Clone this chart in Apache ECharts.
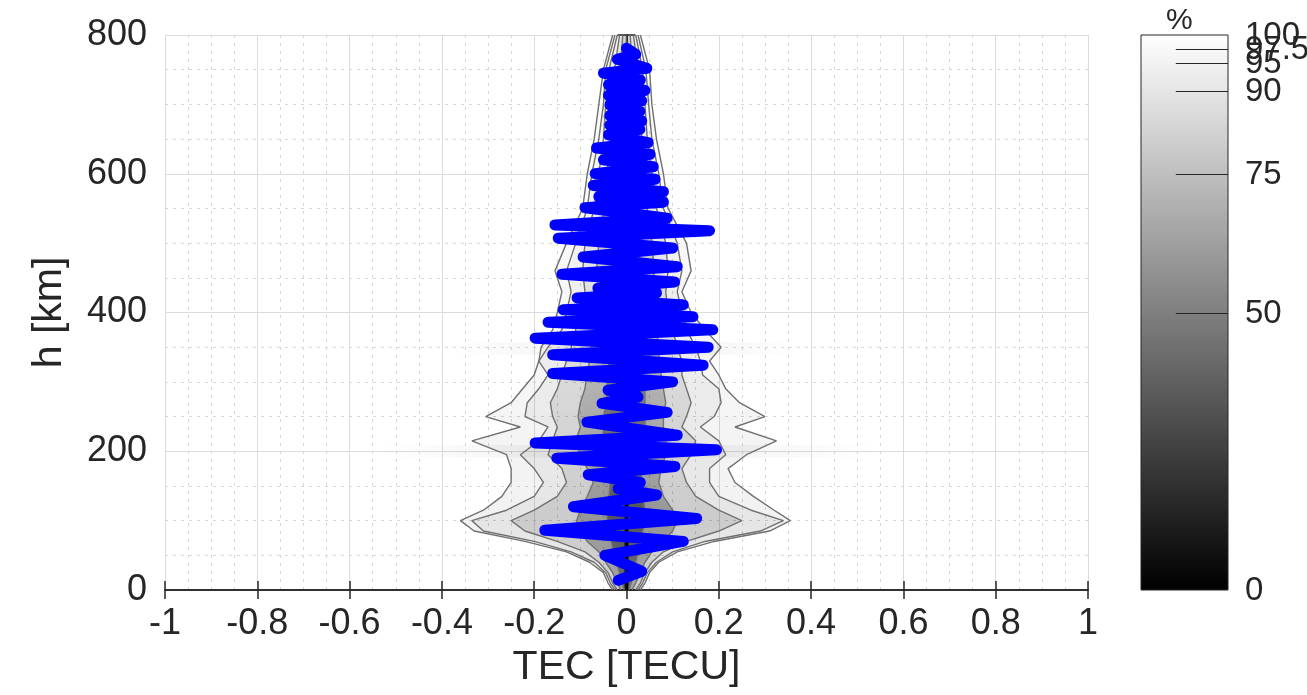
<!DOCTYPE html>
<html>
<head>
<meta charset="utf-8">
<script src="https://cdn.jsdelivr.net/npm/echarts@6/dist/echarts.min.js"></script>
<style>
  html, body { margin: 0; padding: 0; background: #fff; }
  #chart { width: 1307px; height: 695px; }
</style>
</head>
<body>
<div id="chart"></div>
<script>
// heights (km) where the percentile contours were read
var hGrid = [0, 10, 25, 40, 55, 70, 85, 100, 115, 135, 155, 175, 195, 215, 235, 250, 270, 290, 310, 330, 350, 375, 400, 430, 460, 500, 550, 600, 650, 700, 750, 800];

// contour edges, outer (97.5 %) to inner (50 %), right and left side
var c975Right = [0.03, 0.04, 0.05, 0.07, 0.11, 0.19, 0.31, 0.355, 0.32, 0.275, 0.235, 0.22, 0.26, 0.325, 0.235, 0.30, 0.245, 0.215, 0.20, 0.18, 0.205, 0.17, 0.14, 0.12, 0.14, 0.13, 0.09, 0.08, 0.065, 0.055, 0.05, 0.03];
var c975Left = [-0.03, -0.04, -0.05, -0.08, -0.13, -0.22, -0.33, -0.36, -0.31, -0.27, -0.25, -0.25, -0.26, -0.335, -0.23, -0.305, -0.25, -0.225, -0.2, -0.19, -0.185, -0.16, -0.15, -0.14, -0.155, -0.13, -0.095, -0.085, -0.07, -0.06, -0.05, -0.03];
var c95Right = [0.025, 0.035, 0.045, 0.065, 0.1, 0.17, 0.29, 0.34, 0.27, 0.2, 0.18, 0.18, 0.215, 0.2, 0.16, 0.19, 0.205, 0.2, 0.165, 0.16, 0.15, 0.13, 0.12, 0.11, 0.12, 0.11, 0.08, 0.07, 0.055, 0.048, 0.042, 0.025];
var c95Left = [-0.025, -0.035, -0.045, -0.07, -0.12, -0.2, -0.31, -0.335, -0.26, -0.2, -0.18, -0.2, -0.23, -0.19, -0.17, -0.22, -0.215, -0.19, -0.17, -0.19, -0.17, -0.14, -0.13, -0.12, -0.13, -0.11, -0.085, -0.075, -0.06, -0.05, -0.045, -0.025];
var c90Right = [0.02, 0.03, 0.04, 0.055, 0.08, 0.13, 0.2, 0.25, 0.2, 0.15, 0.13, 0.12, 0.14, 0.15, 0.12, 0.13, 0.14, 0.13, 0.12, 0.12, 0.11, 0.1, 0.09, 0.085, 0.09, 0.085, 0.065, 0.055, 0.045, 0.04, 0.035, 0.02];
var c90Left = [-0.02, -0.03, -0.04, -0.06, -0.09, -0.15, -0.22, -0.25, -0.2, -0.15, -0.13, -0.14, -0.17, -0.16, -0.15, -0.16, -0.165, -0.15, -0.14, -0.13, -0.12, -0.11, -0.1, -0.09, -0.095, -0.09, -0.07, -0.06, -0.05, -0.045, -0.038, -0.02];
var c75Right = [0.012, 0.02, 0.03, 0.04, 0.055, 0.08, 0.1, 0.11, 0.1, 0.08, 0.07, 0.075, 0.085, 0.085, 0.08, 0.08, 0.085, 0.08, 0.075, 0.07, 0.07, 0.065, 0.06, 0.055, 0.06, 0.055, 0.045, 0.04, 0.033, 0.03, 0.025, 0.015];
var c75Left = [-0.012, -0.02, -0.03, -0.045, -0.06, -0.085, -0.1, -0.108, -0.1, -0.085, -0.072, -0.085, -0.1, -0.11, -0.1, -0.105, -0.1, -0.09, -0.086, -0.08, -0.075, -0.07, -0.065, -0.06, -0.065, -0.06, -0.048, -0.042, -0.035, -0.03, -0.026, -0.015];
var c50Right = [0.005, 0.01, 0.015, 0.02, 0.025, 0.03, 0.035, 0.04, 0.04, 0.035, 0.03, 0.035, 0.04, 0.04, 0.04, 0.04, 0.04, 0.04, 0.035, 0.035, 0.035, 0.03, 0.03, 0.028, 0.03, 0.028, 0.022, 0.02, 0.017, 0.015, 0.013, 0.008];
var c50Left = [-0.005, -0.01, -0.015, -0.022, -0.028, -0.033, -0.038, -0.042, -0.042, -0.038, -0.035, -0.04, -0.045, -0.05, -0.05, -0.048, -0.045, -0.042, -0.04, -0.038, -0.036, -0.033, -0.03, -0.03, -0.032, -0.03, -0.024, -0.021, -0.018, -0.016, -0.014, -0.008];

// the single profile (blue), TEC and height of each turning point
var profileTec = [-0.018, 0.033, -0.047, 0.123, -0.177, 0.152, -0.115, 0.065, -0.018, 0.03, -0.083, 0.105, -0.151, 0.195, -0.198, 0.11, -0.086, 0.088, -0.053, 0.025, -0.04, 0.10, -0.16, 0.166, -0.16, 0.177, -0.198, 0.187, -0.17, 0.144, -0.137, 0.123, -0.107, 0.065, -0.062, 0.104, -0.14, 0.11, -0.094, 0.10, -0.148, 0.18, -0.155, 0.088, -0.09, 0.08, -0.06, 0.08, -0.072, 0.062, -0.068, 0.058, -0.05, 0.051, -0.065, 0.047, -0.039, 0.029, -0.036, 0.033, -0.036, 0.029, -0.036, 0.033, -0.039, 0.04, -0.039, 0.03, -0.05, 0.044, -0.02, 0.02, 0.0];
var profileH = [14, 27, 50, 70, 86, 103, 120, 137, 146, 155, 166, 178, 190, 202, 212, 223, 242, 256, 269, 278, 288, 300, 312, 324, 339, 350, 363, 375, 386, 394, 404, 411, 421, 428, 435, 444, 455, 466, 480, 493, 507, 518, 526, 536, 551, 559, 567, 574, 583, 592, 600, 610, 620, 628, 637, 645, 656, 664, 670, 676, 684, 690, 699, 705, 713, 720, 728, 735, 745, 752, 765, 772, 781];

// faint horizontal streaks in the density (height, half width in TECU)
var streakH = [200, 348, 425];
var streakHalf = [0.55, 0.38, 0.12];

// colour bar
var barTicks = [50, 75, 90, 95, 97.5];
var barLabels = [0, 50, 75, 90, 95, 97.5, 100];

var FONT = 'Liberation Sans, Arial, sans-serif';
var INK = '#262626';

var levels = [
  {right: c975Right, left: c975Left, a: [0.012, 0.03, 0.05, 0.045]},
  {right: c95Right, left: c95Left, a: [0.012, 0.03, 0.05, 0.045]},
  {right: c90Right, left: c90Left, a: [0.025, 0.06, 0.11, 0.09]},
  {right: c75Right, left: c75Left, a: [0.05, 0.12, 0.24, 0.2]},
  {right: c50Right, left: c50Left, a: [0.08, 0.2, 0.38, 0.3]}
];

function pairs(xs) {
  return hGrid.map(function (h, k) { return [xs[k], h]; });
}

var chart = echarts.init(document.getElementById('chart'), null, {renderer: 'canvas'});

var series = [];

// streaks
series.push({
  type: 'custom', xAxisIndex: 0, yAxisIndex: 0, silent: true, z: 1,
  data: streakH.map(function (h, i) { return [0, h, i]; }),
  renderItem: function (params, api) {
    var i = params.dataIndex;
    var p0 = api.coord([-streakHalf[i], streakH[i] + 9]);
    var p1 = api.coord([streakHalf[i], streakH[i] - 9]);
    return {
      type: 'rect',
      shape: {x: p0[0], y: p0[1], width: p1[0] - p0[0], height: p1[1] - p0[1]},
      style: {
        fill: new echarts.graphic.LinearGradient(0, 0, 1, 0, [
          {offset: 0, color: 'rgba(0,0,0,0)'},
          {offset: 0.3, color: 'rgba(0,0,0,0.04)'},
          {offset: 0.7, color: 'rgba(0,0,0,0.04)'},
          {offset: 1, color: 'rgba(0,0,0,0)'}
        ])
      }
    };
  }
});

// density fill between contours
series.push({
  type: 'custom', xAxisIndex: 0, yAxisIndex: 0, silent: true, z: 1,
  data: levels.map(function (l, i) { return [0, 400, i]; }),
  renderItem: function (params, api) {
    var lv = levels[params.dataIndex];
    var pts = pairs(lv.right).concat(pairs(lv.left).reverse()).map(function (p) { return api.coord(p); });
    return {
      type: 'polygon',
      shape: {points: pts},
      style: {
        fill: new echarts.graphic.LinearGradient(0, 0, 0, 1, [
          {offset: 0, color: 'rgba(0,0,0,' + lv.a[0] + ')'},
          {offset: 0.5, color: 'rgba(0,0,0,' + lv.a[1] + ')'},
          {offset: 0.87, color: 'rgba(0,0,0,' + lv.a[2] + ')'},
          {offset: 1, color: 'rgba(0,0,0,' + lv.a[3] + ')'}
        ]),
        shadowBlur: 8,
        shadowColor: 'rgba(0,0,0,' + lv.a[1] + ')'
      }
    };
  }
});

// dark median ridge
series.push({
  type: 'line', xAxisIndex: 0, yAxisIndex: 0, showSymbol: false, silent: true, z: 2,
  data: [[0, 0], [0, 330]],
  lineStyle: {color: '#000', width: 4, opacity: 0.85}
});
series.push({
  type: 'line', xAxisIndex: 0, yAxisIndex: 0, showSymbol: false, silent: true, z: 2,
  data: [[0, 330], [0, 800]],
  lineStyle: {color: '#555', width: 1.5}
});

// contour lines
levels.forEach(function (lv) {
  [lv.right, lv.left].forEach(function (side) {
    series.push({
      type: 'line', xAxisIndex: 0, yAxisIndex: 0, showSymbol: false, silent: true, z: 3,
      data: pairs(side),
      lineStyle: {color: '#707070', width: 1.4}
    });
  });
});

// blue profile
series.push({
  type: 'line', xAxisIndex: 0, yAxisIndex: 0, showSymbol: false, silent: true, z: 5,
  data: profileTec.map(function (t, k) { return [t, profileH[k]]; }),
  lineStyle: {color: '#0000ff', width: 11, cap: 'round', join: 'round'}
});

// colour bar body with its tick marks and labels
series.push({
  type: 'custom', xAxisIndex: 2, yAxisIndex: 2, silent: true, z: 2,
  data: [[0.5, 50]],
  renderItem: function (params, api) {
    var p0 = api.coord([0, 100]);
    var p1 = api.coord([1, 0]);
    var kids = [{
      type: 'rect',
      shape: {x: p0[0], y: p0[1], width: p1[0] - p0[0], height: p1[1] - p0[1]},
      style: {
        fill: new echarts.graphic.LinearGradient(0, 0, 0, 1, [
          {offset: 0, color: '#ffffff'},
          {offset: 1, color: '#000000'}
        ]),
        stroke: INK,
        lineWidth: 1
      }
    }];
    barTicks.forEach(function (v) {
      var a = api.coord([0.4, v]);
      var b = api.coord([1, v]);
      kids.push({
        type: 'line',
        shape: {x1: a[0], y1: Math.round(a[1]) + 0.5, x2: b[0], y2: Math.round(b[1]) + 0.5},
        style: {stroke: INK, lineWidth: 1.2}
      });
    });
    barLabels.forEach(function (v) {
      var p = api.coord([1, v]);
      kids.push({
        type: 'text',
        style: {
          text: String(v), x: p[0] + 17, y: p[1] + 1,
          align: 'left', verticalAlign: 'middle',
          font: '33px ' + FONT, fill: INK
        }
      });
    });
    return {type: 'group', children: kids};
  }
});

var frame = {lineStyle: {color: INK, width: 1.5}};

chart.setOption({
  animation: false,
  textStyle: {fontFamily: FONT, color: INK},
  grid: [
    {left: 165, right: 219, top: 35, bottom: 105},
    {left: 1141, width: 87, top: 35, bottom: 105}
  ],
  xAxis: [
    {
      gridIndex: 0, type: 'value', min: -1, max: 1, interval: 0.2, position: 'bottom',
      axisLine: frame,
      axisTick: {inside: true, length: 9, lineStyle: {color: INK, width: 1.5}},
      axisLabel: {fontSize: 36, color: INK, margin: 16, fontFamily: FONT},
      splitLine: {show: true, lineStyle: {color: '#dcdcdc', width: 1}},
      minorTick: {show: false, splitNumber: 4},
      minorSplitLine: {show: true, lineStyle: {color: '#d6d6d6', width: 1, type: [3, 5]}},
      name: 'TEC [TECU]', nameLocation: 'middle', nameGap: 57,
      nameTextStyle: {fontSize: 41, color: INK, fontFamily: FONT}
    },
    {
      gridIndex: 0, type: 'value', min: -1, max: 1, interval: 0.2, position: 'top',
      axisLine: frame,
      axisTick: {inside: true, length: 9, lineStyle: {color: INK, width: 1.5}},
      axisLabel: {show: false}, splitLine: {show: false}
    },
    {gridIndex: 1, type: 'value', min: 0, max: 1, show: false}
  ],
  yAxis: [
    {
      gridIndex: 0, type: 'value', min: 0, max: 800, interval: 200, position: 'left',
      axisLine: frame,
      axisTick: {inside: true, length: 9, lineStyle: {color: INK, width: 1.5}},
      axisLabel: {fontSize: 36, color: INK, margin: 18, fontFamily: FONT},
      splitLine: {show: true, lineStyle: {color: '#dcdcdc', width: 1}},
      minorTick: {show: false, splitNumber: 4},
      minorSplitLine: {show: true, lineStyle: {color: '#d6d6d6', width: 1, type: [3, 5]}},
      name: 'h [km]', nameLocation: 'middle', nameGap: 95, nameRotate: 90,
      nameTextStyle: {fontSize: 41, color: INK, fontFamily: FONT}
    },
    {
      gridIndex: 0, type: 'value', min: 0, max: 800, interval: 200, position: 'right',
      axisLine: frame,
      axisTick: {inside: true, length: 9, lineStyle: {color: INK, width: 1.5}},
      axisLabel: {show: false}, splitLine: {show: false}
    },
    {gridIndex: 1, type: 'value', min: 0, max: 100, show: false}
  ],
  graphic: [
    {type: 'text', left: 1166, top: 6, style: {text: '%', font: '30px ' + FONT, fill: INK}}
  ],
  series: series
});
</script>
</body>
</html>
